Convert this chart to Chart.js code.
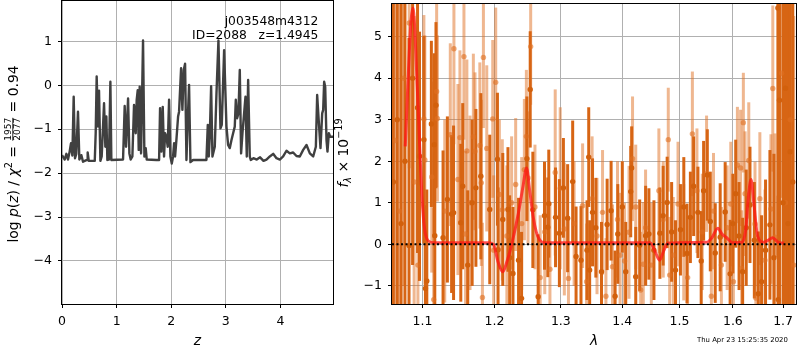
<!DOCTYPE html>
<html>
<head>
<meta charset="utf-8">
<script src="https://cdn.jsdelivr.net/npm/chart.js@4.4.0/dist/chart.umd.min.js"></script>
<style>
html,body{margin:0;padding:0;background:#fff}
#wrap{position:relative;width:800px;height:350px;overflow:hidden}
#c1{position:absolute;left:0;top:0}
#c2{position:absolute;left:330px;top:0}
</style>
</head>
<body>
<div id="wrap">
<canvas id="c1" width="340" height="350"></canvas>
<canvas id="c2" width="470" height="350"></canvas>
</div>
<script>
// --- left panel: log p(z) ---
const zVals = [0.00,0.05,0.08,0.11,0.14,0.165,0.19,0.214,0.238,0.262,0.293,0.318,0.354,0.385,0.458,0.47,0.49,0.60,0.617,0.635,0.66,0.678,0.703,0.727,0.77,0.794,0.812,0.831,0.86,0.886,0.904,1.118,1.148,1.173,1.21,1.234,1.258,1.289,1.319,1.35,1.368,1.387,1.405,1.423,1.448,1.484,1.509,1.533,1.552,1.729,1.778,1.796,1.82,1.845,1.869,1.888,1.912,1.936,1.961,1.985,2.01,2.034,2.053,2.071,2.095,2.126,2.144,2.181,2.205,2.23,2.254,2.279,2.303,2.327,2.352,2.40,2.645,2.67,2.688,2.706,2.731,2.755,2.798,2.829,2.865,2.902,2.926,2.969,3.012,3.042,3.073,3.103,3.134,3.164,3.183,3.207,3.231,3.256,3.28,3.305,3.33,3.36,3.384,3.409,3.439,3.457,3.506,3.567,3.628,3.69,3.745,3.806,3.867,3.928,3.989,4.05,4.111,4.172,4.233,4.294,4.355,4.417,4.478,4.539,4.6,4.649,4.673,4.697,4.734,4.765,4.783,4.801,4.82,4.844,4.862,4.887,4.911,4.963]
const logpVals = [-1.59,-1.69,-1.56,-1.69,-1.51,-1.32,-1.6,-0.26,-1.66,-1.56,-0.6,-1.69,-1.59,-1.74,-1.70,-1.53,-1.72,-1.72,-1.09,0.2,-0.94,-0.12,-1.72,-1.62,-0.41,-1.40,-0.71,-1.70,-1.69,0.08,-1.70,-1.69,-0.47,-1.40,-0.30,-1.55,-1.69,-1.62,-0.45,-1.09,-0.33,-0.11,-1.47,-0.03,-1.55,1.02,-1.62,-1.43,-1.69,-1.70,-1.70,-0.52,-1.51,-0.49,-1.62,-1.09,-1.17,-1.40,-0.33,-1.62,-1.78,-1.62,-1.32,-1.62,-1.25,-0.71,-0.6,0.39,-0.56,0.35,0.49,-1.70,-0.79,0.01,-1.75,-1.70,-1.70,-0.9,-1.62,-1.17,-0.02,-1.62,-1.40,-0.18,1.02,-0.98,-0.9,0.8,-0.94,-1.36,-1.43,-1.25,-1.09,-0.94,-0.33,-0.75,-0.64,0.35,-1.55,-1.09,-0.71,-0.26,-1.62,0.12,-1.62,-1.70,-1.66,-1.69,-1.64,-1.72,-1.69,-1.62,-1.56,-1.66,-1.69,-1.62,-1.49,-1.55,-1.53,-1.61,-1.62,-1.47,-1.36,-1.55,-1.62,-1.40,-0.22,-0.71,-1.43,-0.64,-0.56,0.08,-0.03,-1.25,-1.51,-1.09,-1.17,-1.17]
const zTicks = [0,1,2,3,4]
const logpTicks = [-4,-3,-2,-1,0,1]

// --- right panel: spectrum ---
const lamTicks = [1.1,1.2,1.3,1.4,1.5,1.6,1.7]
const fluxTicks = [-1,0,1,2,3,4,5]
const lamModel = [1.0774,1.0800,1.0826,1.0850,1.0874,1.0895,1.0917,1.0945,1.0970,1.0992,1.1013,1.1030,1.1049,1.1080,1.1150,1.1900,1.1985,1.2050,1.2119,1.2180,1.2251,1.2350,1.2420,1.2473,1.2520,1.2574,1.2620,1.2674,1.2750,1.4480,1.4575,1.4645,1.4720,1.4792,1.5500,1.5600,1.5712,1.5790,1.5871,1.5998,1.6180,1.6250,1.6300,1.6355,1.6410,1.6485,1.6600,1.6700,1.6785,1.6900,1.7022]
const fluxModel = [2.36,3.5,4.6,5.4,5.69,5.3,4.4,3.2,2.07,1.2,0.64,0.35,0.18,0.08,0.04,0.04,0.0,-0.42,-0.66,-0.42,0.0,0.75,1.4,1.84,1.3,0.65,0.3,0.1,0.04,0.04,-0.2,-0.38,-0.15,0.03,0.05,0.16,0.39,0.25,0.17,0.04,0.05,0.35,1.1,1.56,1.0,0.2,0.05,0.1,0.16,0.05,0.03]

const lamDark = [1.0620,1.0670,1.0720,1.0770,1.0823,1.0870,1.0935,1.0961,1.1019,1.1040,1.1058,1.1119,1.1158,1.1165,1.1181,1.1277,1.1336,1.1394,1.1421,1.1521,1.1548,1.1618,1.1680,1.1733,1.1803,1.1931,1.2042,1.2051,1.2120,1.2196,1.2221,1.2270,1.2353,1.2398,1.2478,1.2528,1.2568,1.2649,1.2746,1.2797,1.2812,1.2917,1.2977,1.3040,1.3107,1.3187,1.3241,1.3320,1.3417,1.3445,1.3460,1.3507,1.3561,1.3654,1.3747,1.3813,1.3880,1.3925,1.4001,1.4059,1.4144,1.4160,1.4230,1.4298,1.4401,1.4458,1.4546,1.4651,1.4709,1.4780,1.4860,1.4930,1.5019,1.5080,1.5138,1.5200,1.5260,1.5339,1.5400,1.5445,1.5514,1.5570,1.5663,1.5757,1.5852,1.5947,1.6000,1.6055,1.6120,1.6190,1.6260,1.6334,1.6420,1.6499,1.6564,1.6644,1.6732,1.6813,1.6894,1.6900,1.6926,1.7000,1.7049,1.7100,1.7146,1.7200]
const fluxDark = [1.5,3.0,0.5,2.0,-0.03,4.0,3.29,2.12,2.52,-1.06,-0.88,2.9,2.4,0.21,3.35,0.16,1.08,0.73,0.76,0.52,1.4,-0.5,1.0,1.36,1.64,0.84,2.05,-0.13,0.6,0.84,-0.32,-0.7,-0.38,-1.3,2.06,3.73,0.83,-1.26,0.69,0.41,0.98,0.65,0.27,1.36,0.63,1.51,-0.29,-0.38,-0.14,2.1,-0.62,0.77,0.4,-0.66,0.48,0.81,-1.25,0.25,0.9,-0.66,1.27,1.84,-0.78,-0.02,0.21,0.25,-0.14,0.27,0.69,1.01,0.3,-0.62,0.35,0.9,-0.22,0.65,1.4,0.77,-0.4,1.29,1.67,0.55,-0.21,0.17,0.78,-0.71,0.5,1.22,0.2,-0.66,0.4,0.95,0.1,-1.19,-0.9,-0.14,0.47,-0.32,5.69,-1.33,3.47,1.0,3.76,0.5,2.23,1.5]
const errDark = [6,5,6,5.5,5,4.5,3.5,3.0,2.5,2.0,2.2,2.0,2.2,2.0,2.0,2.1,2.0,1.9,2.1,1.9,2.0,1.8,2.0,1.9,2.0,1.8,1.6,1.5,1.6,1.5,1.5,1.6,1.5,1.6,1.5,1.4,1.4,1.5,1.3,1.2,1.3,1.2,1.3,1.2,1.3,1.47,1.2,1.3,1.2,1.2,1.2,1.3,1.2,1.2,1.1,1.2,1.1,1.2,1.1,1.2,1.1,1.0,1.2,1.1,1.2,1.1,1.2,1.1,1.2,1.1,1.2,1.2,1.1,1.2,1.2,1.1,1.2,1.1,1.2,1.2,1.1,1.2,1.2,1.3,1.2,1.3,1.2,1.3,1.3,1.3,1.4,1.4,1.4,1.5,1.6,1.7,1.8,2.5,6,2.5,5,7,6,8,7,8]

const lamLight = [1.0645,1.0700,1.0755,1.0826,1.0890,1.0940,1.1019,1.1032,1.1124,1.1150,1.1190,1.1200,1.1300,1.1376,1.1426,1.1481,1.1509,1.1565,1.1588,1.1606,1.1650,1.1697,1.1720,1.1789,1.1810,1.1826,1.1840,1.1888,1.1974,1.1988,1.2017,1.2070,1.2113,1.2180,1.2250,1.2310,1.2400,1.2440,1.2470,1.2495,1.2535,1.2600,1.2680,1.2750,1.2830,1.2912,1.2990,1.3055,1.3120,1.3210,1.3346,1.3410,1.3500,1.3580,1.3671,1.3727,1.3836,1.3920,1.3964,1.4040,1.4115,1.4175,1.4230,1.4315,1.4360,1.4400,1.4500,1.4633,1.4710,1.4800,1.4825,1.4890,1.4975,1.5079,1.5150,1.5237,1.5321,1.5420,1.5500,1.5590,1.5630,1.5780,1.5890,1.5960,1.6010,1.6088,1.6150,1.6171,1.6204,1.6237,1.6310,1.6433,1.6450,1.6530,1.6632,1.6753,1.6790,1.6834,1.6969,1.7050,1.7150,1.7220]
const fluxLight = [2.5,0.8,4.0,5.33,1.5,-0.5,3.02,2.03,1.62,-1.33,3.68,3.03,0.8,2.64,4.71,1.56,2.57,4.52,0.25,2.25,1.0,2.59,2.24,2.38,1.48,-1.28,4.5,2.31,3.02,-0.14,3.9,1.2,0.83,0.2,1.0,1.44,0.5,1.8,2.6,1.6,4.76,0.9,-0.8,0.3,-0.6,1.73,1.35,0.37,-0.82,0.5,0.93,-0.9,1.1,0.2,0.77,-1.25,-0.54,0.6,-0.26,-0.4,0.29,2.06,0.9,-1.1,-0.48,0.4,-0.5,1.29,0.6,2.52,-0.74,-0.26,0.97,0.05,-0.8,2.66,1.29,0.3,1.7,-1.25,0.8,-0.5,0.4,0.97,-0.9,1.91,1.84,-0.58,2.93,1.22,2.02,0.49,-1.29,1.1,-0.38,0.85,3.75,0.17,4.12,1.0,3.0,-0.5]
const errLight = [6,6,5,3.5,4,3.5,2.5,3.0,2.3,2.2,2.3,2.0,2.2,2.2,2.3,2.3,2.1,2.0,2.0,2.2,2.1,2.0,1.9,2.0,2.0,1.8,1.7,2.0,1.9,1.8,1.8,1.8,1.7,1.7,1.6,1.6,1.6,1.7,1.6,1.6,1.4,1.5,1.5,1.5,1.6,2.0,1.95,1.6,1.5,1.5,1.5,1.4,1.5,1.4,1.5,1.4,1.5,1.4,1.5,1.4,1.6,1.5,1.5,1.4,1.5,1.4,1.5,1.5,1.4,1.25,1.4,1.4,1.5,1.4,1.5,1.5,1.5,1.4,1.4,1.4,1.4,1.4,1.5,1.5,1.4,1.4,1.4,1.4,1.2,1.5,1.4,1.5,1.5,1.6,1.7,1.8,2.0,2.5,3.0,5,6,6]

const FAM = '"DejaVu Sans", sans-serif'
const F = (sz, it) => (it ? 'italic ' : '') + sz + 'px ' + FAM
const fmt = v => (v < 0 ? '\u2212' : '') + Math.abs(v)
const pts = (xs, ys) => xs.map((x, i) => ({ x, y: ys[i] }))

function axis(type, min, max, ticks, size, cb){
  return {
    type, min, max,
    afterBuildTicks: s => { s.ticks = ticks.map(v => ({ value: v })) },
    afterFit: s => {
      if (s.isHorizontal()) s.height = size; else s.width = size
      s.paddingTop = 0; s.paddingBottom = 0; s.paddingLeft = 0; s.paddingRight = 0
    },
    grid: { color: '#b0b0b0', lineWidth: 1, tickColor: '#000', tickLength: 4 },
    border: { display: false },
    ticks: { color: '#000', font: { family: FAM, size: 12.5 }, padding: 6, autoSkip: false, maxRotation: 0, callback: cb || fmt }
  }
}

// frame + error bars + math-style labels
const frame = {
  id: 'frame',
  afterDraw(chart){
    const { ctx, chartArea: a } = chart
    ctx.save(); ctx.strokeStyle = '#000'; ctx.lineWidth = 1
    ctx.strokeRect(Math.round(a.left) - 0.5, Math.round(a.top) - 0.5, Math.round(a.right - a.left) + 1, Math.round(a.bottom - a.top) + 1)
    ctx.restore()
  }
}
const errbars = {
  id: 'errbars',
  beforeDatasetsDraw(chart){
    const { ctx, chartArea: a, scales: { x, y } } = chart
    ctx.save(); ctx.beginPath(); ctx.rect(a.left, a.top, a.right - a.left, a.bottom - a.top); ctx.clip()
    ;[...chart.data.datasets].reverse().forEach(ds => {
      if (!ds.err) return
      ctx.strokeStyle = ds.barColor; ctx.lineWidth = 3
      ds.data.forEach((p, i) => {
        const px = x.getPixelForValue(p.x)
        ctx.beginPath(); ctx.moveTo(px, y.getPixelForValue(p.y - ds.err[i])); ctx.lineTo(px, y.getPixelForValue(p.y + ds.err[i])); ctx.stroke()
      })
    })
    ctx.restore()
  }
}
function drawRuns(ctx, it){
  ctx.save(); ctx.translate(it.x, it.y); if (it.rot) ctx.rotate(it.rot)
  ctx.fillStyle = '#000'; ctx.textBaseline = 'alphabetic'; ctx.textAlign = 'left'
  let total = 0
  it.runs.forEach(r => {
    ctx.font = r.f
    r.w = r.frac ? Math.max(ctx.measureText(r.frac[0]).width, ctx.measureText(r.frac[1]).width) + 2 : ctx.measureText(r.t).width
    total += r.w
  })
  let x = it.align === 'right' ? -total : it.align === 'left' ? 0 : -total / 2
  it.runs.forEach(r => {
    ctx.font = r.f
    if (r.frac){
      ctx.textAlign = 'center'
      ctx.fillText(r.frac[0], x + r.w / 2, -6.6)
      ctx.fillText(r.frac[1], x + r.w / 2, 2.4)
      ctx.fillRect(x + 1, -5.4, r.w - 2, 0.8)
      ctx.textAlign = 'left'
    } else ctx.fillText(r.t, x, r.dy || 0)
    x += r.w
  })
  ctx.restore()
}
const texts = {
  id: 'texts',
  afterDraw(chart, args, opts){ (opts.items || []).forEach(it => drawRuns(chart.ctx, it)) }
}

const L = 13.9, S = 9.7
new Chart(document.getElementById('c1'), {
  type: 'line',
  data: { datasets: [{ data: pts(zVals, logpVals), borderColor: '#404040', borderWidth: 2.4, pointRadius: 0, tension: 0, borderJoinStyle: 'round' }] },
  options: {
    responsive: false, animation: false, events: [],
    layout: { padding: { left: 0, top: 1, right: 7, bottom: 0 } },
    scales: { x: axis('linear', 0, 4.963, zTicks, 46), y: axis('linear', -4.98, 1.92, logpTicks, 62) },
    plugins: {
      legend: { display: false }, tooltip: { enabled: false },
      texts: { items: [
        { x: 318.3, y: 24.5, align: 'right', runs: [{ t: 'j003548m4312', f: F(12.3) }] },
        { x: 318.3, y: 38.8, align: 'right', runs: [{ t: 'ID=2088   z=1.4945', f: F(12.3) }] },
        { x: 197.5, y: 345, runs: [{ t: 'z', f: F(L, true) }] },
        { x: 17.8, y: 154, rot: -Math.PI / 2, runs: [
          { t: 'log ', f: F(L) }, { t: 'p', f: F(L, true) }, { t: '(', f: F(L) }, { t: 'z', f: F(L, true) }, { t: ') / ', f: F(L) },
          { t: '\u03c7', f: F(L, true) }, { t: '2', f: F(S), dy: -5.5 }, { t: ' = ', f: F(L) },
          { frac: ['1957', '2077'], f: F(9) }, { t: ' = 0.94', f: F(L) }
        ] }
      ] }
    }
  },
  plugins: [frame, texts]
})

const lamMin = 1.0603, lamMax = 1.7267
new Chart(document.getElementById('c2'), {
  type: 'scatter',
  data: { datasets: [
    { type: 'line', data: pts([lamMin, lamMax], [0, 0]), borderColor: '#000', borderWidth: 2, borderDash: [2, 2.5], pointRadius: 0, order: 0 },
    { type: 'line', data: pts(lamModel, fluxModel), borderColor: 'rgba(255,20,20,0.75)', borderWidth: 3, pointRadius: 0, cubicInterpolationMode: 'monotone', order: 1 },
    { data: pts(lamDark, fluxDark), err: errDark, barColor: 'rgb(215,101,20)', pointRadius: 2.7, pointBorderWidth: 0, pointBackgroundColor: 'rgb(210,96,12)', order: 2 },
    { data: pts(lamLight, fluxLight), err: errLight, barColor: 'rgba(224,112,34,0.5)', pointRadius: 2.7, pointBorderWidth: 0, pointBackgroundColor: 'rgba(224,112,34,0.6)', order: 3 }
  ] },
  options: {
    responsive: false, animation: false, events: [],
    layout: { padding: { left: 0, top: 1, right: 2, bottom: 0 } },
    scales: {
      x: axis('logarithmic', lamMin, lamMax, lamTicks, 46, v => v.toFixed(1)),
      y: axis('linear', -1.436, 5.786, fluxTicks, 62)
    },
    plugins: {
      legend: { display: false }, tooltip: { enabled: false },
      texts: { items: [
        { x: 264, y: 345, runs: [{ t: '\u03bb', f: F(L, true) }] },
        { x: 17.5, y: 153, rot: -Math.PI / 2, runs: [
          { t: 'f', f: F(L, true) }, { t: '\u03bb', f: F(S, true), dy: 3 }, { t: ' \u00d7 10', f: F(L) }, { t: '\u221219', f: F(S), dy: -5.5 }
        ] },
        { x: 367, y: 341.5, align: 'left', runs: [{ t: 'Thu Apr 23 15:25:35 2020', f: F(6.9) }] }
      ] }
    }
  },
  plugins: [frame, errbars, texts]
})
</script>
</body>
</html>
